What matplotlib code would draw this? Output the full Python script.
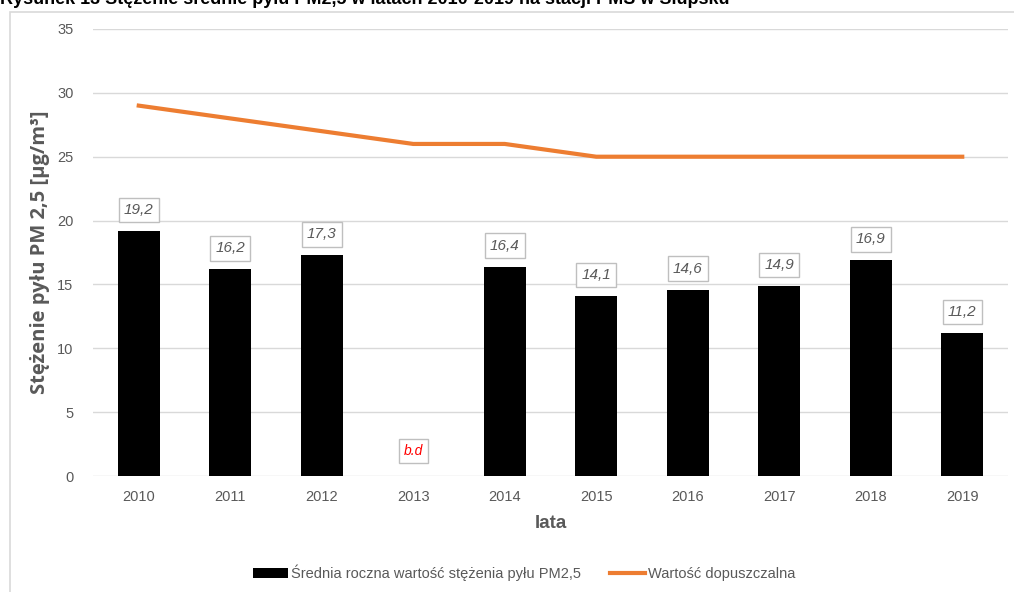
import matplotlib.pyplot as plt
import matplotlib.patches as mpatches
import numpy as np

# lata i wartosci pomiarowe PM2,5 (2013 - brak danych)
years = ['2010', '2011', '2012', '2013', '2014', '2015', '2016', '2017', '2018', '2019']
pm25 = [19.2, 16.2, 17.3, None, 16.4, 14.1, 14.6, 14.9, 16.9, 11.2]
limit = [29, 28, 27, 26, 26, 25, 25, 25, 25, 25]

plt.rcParams['font.family'] = ['Liberation Sans', 'DejaVu Sans']

fig = plt.figure(figsize=(10.14, 5.92), dpi=100)
ax = fig.add_axes([93 / 1014, 116 / 592, 915 / 1014, 447 / 592])

# ramka wykresu
fig.patches.append(mpatches.Rectangle((10 / 1014, -0.05), 1.1, (592 - 12) / 592 + 0.05,
                                      transform=fig.transFigure, fill=False,
                                      edgecolor='#d9d9d9', linewidth=1.2))

fig.text(0.0, 1.004, 'Rysunek 13 Stężenie średnie pyłu PM2,5 w latach 2010-2019 na stacji PMŚ w Słupsku',
         fontsize=13, fontweight='bold', ha='left', va='center', color='black',
         family=['Liberation Sans Narrow', 'Liberation Sans'])

x = np.arange(len(years))
vals = np.array([v if v is not None else 0 for v in pm25])
bars = ax.bar(x, vals, width=0.46, color='black', zorder=3,
              label='Średnia roczna wartość stężenia pyłu PM2,5')
line, = ax.plot(x, limit, color='#ed7d31', linewidth=3, zorder=4, label='Wartość dopuszczalna')

box = dict(boxstyle='square,pad=0.35', facecolor='white', edgecolor='#bfbfbf', linewidth=1)
for xi, v in zip(x, pm25):
    if v is None:
        ax.annotate('b.d', (xi, 0), xytext=(0, 18), textcoords='offset points',
                    ha='center', va='center', fontsize=10, style='italic',
                    color='#ff0000', bbox=box, zorder=5)
    else:
        ax.annotate(f'{v:.1f}'.replace('.', ','), (xi, v), xytext=(0, 15),
                    textcoords='offset points', ha='center', va='center',
                    fontsize=11, style='italic', color='#595959', bbox=box, zorder=5)

ax.set_xlim(-0.5, len(years) - 0.5)
ax.set_ylim(0, 35)
ax.set_yticks(range(0, 36, 5))
ax.set_xticks(x)
ax.set_xticklabels(years)
ax.tick_params(axis='both', length=0, labelsize=10.5, labelcolor='#595959', pad=10)
ax.tick_params(axis='y', pad=14)
ax.grid(axis='y', color='#d9d9d9', linewidth=1, zorder=0)
for s in ax.spines.values():
    s.set_visible(False)

ax.set_xlabel('lata', fontsize=13.5, fontweight='bold', color='#595959', labelpad=8)
ax.set_ylabel('Stężenie pyłu PM 2,5 [µg/m³]', fontsize=14.5, fontweight='bold',
              color='#595959', labelpad=5, family=['Open Sans', 'DejaVu Sans'])

leg = fig.legend(handles=[bars, line], loc='center', bbox_to_anchor=(524 / 1014, 1 - 573 / 592),
                 ncol=2, frameon=False, handlelength=2.4, handletextpad=0.2, columnspacing=2.0,
                 prop={'family': ['Liberation Sans Narrow', 'Liberation Sans'], 'size': 10.5})
for t in leg.get_texts():
    t.set_color('#595959')

fig.savefig('out.png', dpi=100)
